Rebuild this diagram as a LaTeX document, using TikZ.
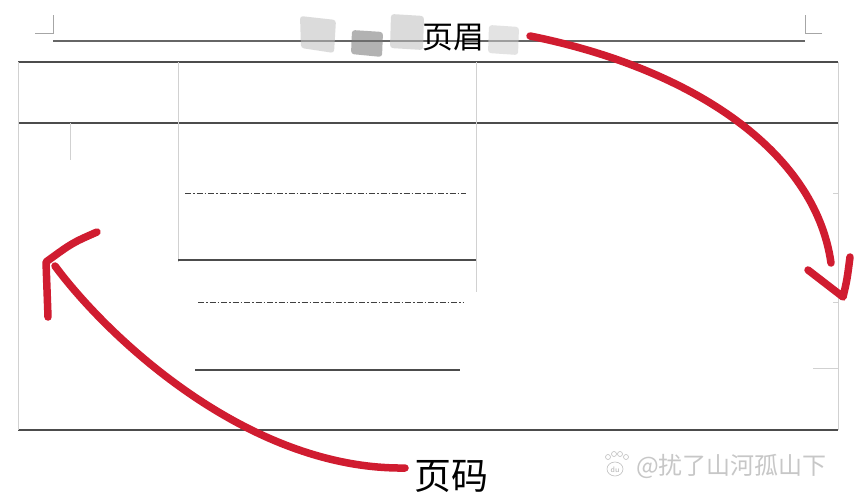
\documentclass[tikz,border=0pt]{standalone}
\usepackage{fontspec}
\newfontfamily\cjk{Noto Sans CJK SC}
\begin{document}
\begin{tikzpicture}[x=1pt,y=-1pt,
  rule/.style={draw=black!70,line width=1.1pt},
  faint/.style={draw=black!18,line width=0.6pt},
  dashdot/.style={draw=black!75,line width=0.8pt,dash pattern=on 6pt off 2pt on 1.5pt off 2pt},
  redpen/.style={draw={rgb,255:red,208;green,28;blue,48},line width=7.5pt,line cap=round,line join=round},
  blob/.style={fill=black!25,opacity=0.55,rounded corners=3pt},
  label/.style={font=\cjk,text=black,inner sep=0pt}]
\useasboundingbox (0,0) rectangle (866,500);
\fill[white] (0,0) rectangle (866,500);
% header corner marks and rule
\draw[faint,draw=black!35] (35,33) -- (53,33) -- (53,15);
\draw[faint,draw=black!35] (822,33) -- (805,33) -- (805,15);
\draw[draw=black!60,line width=1.2pt] (53,41) -- (805,41);
% blurred (censored) header text
\fill[blob] (300,16) -- (336,20) -- (334,53) -- (301,48) -- cycle;
\fill[blob,fill=black!55] (352,30) -- (383,32) -- (382,57) -- (351,54) -- cycle;
\fill[blob] (391,14) -- (424,16) -- (423,50) -- (390,48) -- cycle;
\fill[blob,fill=black!20] (489,25) -- (519,27) -- (518,55) -- (488,53) -- cycle;
% table
\draw[rule] (18,62) -- (838,62);
\draw[rule] (18,123) -- (838,123);
\draw[rule] (18,430) -- (838,430);
\draw[faint] (18,62) -- (18,430);
\draw[faint] (838,62) -- (838,430);
\draw[faint] (70,123) -- (70,160);
\draw[faint] (178,62) -- (178,262);
\draw[faint] (476,62) -- (476,292);
\draw[faint] (833,193) -- (838,193);
\draw[faint] (833,302) -- (838,302);
\draw[faint] (813,368) -- (838,368);
\draw[dashdot] (185,193) -- (466,193);
\draw[rule,line width=1.4pt] (178,260) -- (476,260);
\draw[dashdot] (198,302) -- (463,302);
\draw[rule,line width=1.4pt] (195,370) -- (460,370);
% labels
\node[label,font=\cjk\fontsize{31}{31}\selectfont] (hdr) at (453,38) {页眉};
\node[label,font=\cjk\fontsize{37}{37}\selectfont] (ftr) at (451,476) {页码};
% watermark
\node[inner sep=0pt,font=\cjk\fontsize{24}{24}\selectfont,text=black!22,anchor=west] (wm) at (636,466) {@扰了山河孤山下};
\begin{scope}[draw=black!25,line width=0.6pt]
\draw (615,469) ellipse (8 and 7);
\draw (608,457) circle (2.5);
\draw (614,454) circle (2.5);
\draw (620,454) circle (2.5);
\draw (626,457) circle (2.5);
\node[font=\sffamily\fontsize{8}{8}\selectfont,text=black!30,inner sep=0pt] (du) at (615,470) {du};
\end{scope}
% red arrows
\coordinate (hs) at (530,36);
\coordinate (he) at (831,263);
\draw[redpen] (hs) .. controls (690,68) and (815,150) .. (he);
\coordinate (ha) at (808,270);
\coordinate (ht) at (843,297);
\coordinate (hb) at (850,257);
\draw[redpen] (ha) -- (ht) .. controls (847,280) .. (hb);
\coordinate (fs) at (405,468);
\coordinate (fe) at (55,266);
\draw[redpen] (fs) .. controls (250,470) and (110,340) .. (fe);
\coordinate (fa) at (97,232);
\coordinate (ft) at (46,262);
\coordinate (fb) at (48,317);
\draw[redpen] (fa) .. controls (72,243) .. (ft) -- (fb);
\end{tikzpicture}
\end{document}
